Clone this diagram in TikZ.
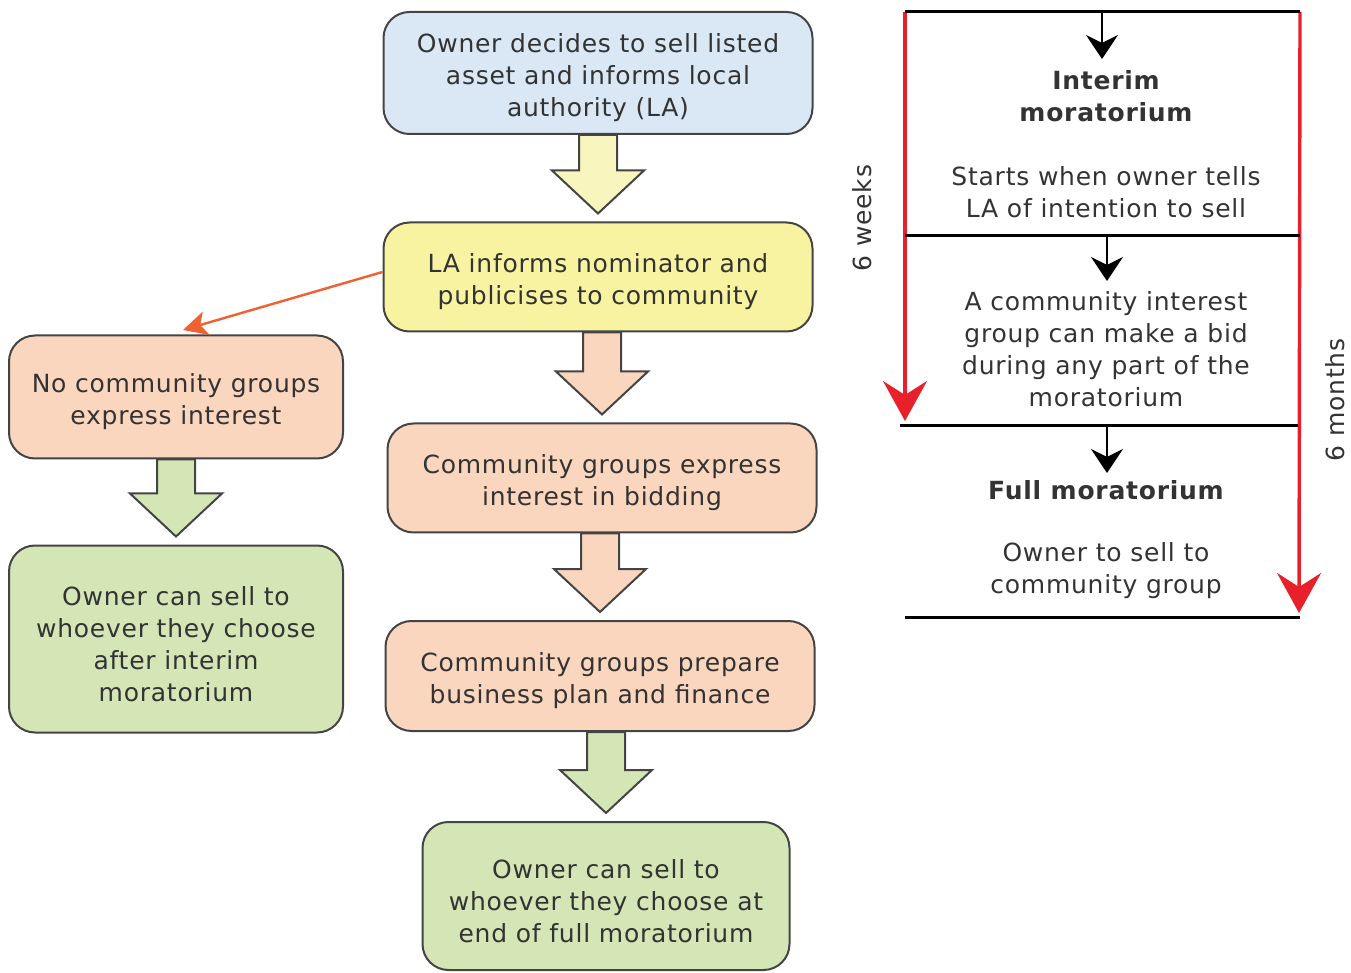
\documentclass[tikz,border=0pt]{standalone}
\usepackage{fontspec}
\setmainfont{DejaVu Sans}[LetterSpace=3]
\usetikzlibrary{arrows.meta,calc}
\definecolor{txt}{HTML}{333333}
\definecolor{edge}{HTML}{444444}
\definecolor{cblue}{HTML}{DAE8F6}
\definecolor{cyellow}{HTML}{F8F3A0}
\definecolor{cpaleyel}{HTML}{F8F5BE}
\definecolor{cpeach}{HTML}{FAD6BE}
\definecolor{cgreen}{HTML}{D4E6B6}
\definecolor{corange}{HTML}{F06030}
\definecolor{cred}{HTML}{E8202A}
\newcommand{\topstrut}{\rule{0pt}{14.5pt}}
\tikzset{
  box/.style={draw=edge, line width=1pt, rounded corners=13pt, align=center,
    text=txt, font=\fontsize{12.5}{16}\selectfont, inner sep=0pt},
  blockarrow/.style={draw=edge, line width=1pt, line join=miter},
  paneltext/.style={align=center, text=txt, font=\fontsize{12.5}{16}\selectfont},
  divider/.style={line width=1.5pt, black},
  blackarr/.style={line width=1.4pt, black, -{Stealth[length=12pt,width=16pt,inset=4pt]}},
  redarr/.style={line width=1.7pt, cred, -{Stealth[length=20pt,width=22pt,inset=7pt]}},
}
\newcommand{\blockarr}[3]{%
  \path let \p1=(#1.south), \p2=(#2.north) in
    [blockarrow, fill=#3] (\x2-9.5pt,\y1) -- (\x2-9.5pt,\y2+25.5pt) -- (\x2-23pt,\y2+25.5pt)
    -- (\x2,\y2+4pt) -- (\x2+23pt,\y2+25.5pt) -- (\x2+9.5pt,\y2+25.5pt) -- (\x2+9.5pt,\y1) -- cycle;}
\begin{document}
\begin{tikzpicture}[x=0.5pt,y=-0.5pt]
\useasboundingbox (0,0) rectangle (1351,973);
% flow boxes
\node[box, fill=cblue, minimum width=214.5pt, minimum height=61pt] (owner) at (598,73)
  {\topstrut Owner decides to sell listed\\asset and informs local\\authority (LA)};
\node[box, fill=cyellow, minimum width=214.5pt, minimum height=54.5pt] (la) at (598,277)
  {\topstrut LA informs nominator and\\publicises to community};
\node[box, fill=cpeach, minimum width=167pt, minimum height=61.5pt] (nocg) at (176,397)
  {\topstrut No community groups\\express interest};
\node[box, fill=cpeach, minimum width=214.5pt, minimum height=54.5pt] (express) at (602,478)
  {\topstrut Community groups express\\interest in bidding};
\node[box, fill=cpeach, minimum width=214.5pt, minimum height=55pt] (prepare) at (600,676)
  {\topstrut Community groups prepare\\business plan and finance};
\node[box, fill=cgreen, minimum width=183.5pt, minimum height=74pt] (endfull) at (606,896)
  {\topstrut Owner can sell to\\whoever they choose at\\end of full moratorium};
\node[box, fill=cgreen, minimum width=167pt, minimum height=93.5pt] (afterint) at (176,639)
  {\topstrut Owner can sell to\\whoever they choose\\after interim\\moratorium};
% block arrows
\blockarr{owner}{la}{cpaleyel}
\blockarr{la}{express}{cpeach}
\blockarr{express}{prepare}{cpeach}
\blockarr{prepare}{endfull}{cgreen}
\blockarr{nocg}{afterint}{cgreen}
% orange connector
\coordinate (nocgtip) at (183,330);
\draw[corange, line width=1.2pt, -{Stealth[length=12pt,width=12pt,inset=3pt]}] (la.west) ++(0,-5) -- (nocgtip);
% right panel
\coordinate (tl) at (905,12);  \coordinate (tr) at (1300,12);
\coordinate (ml) at (905,236); \coordinate (mr) at (1300,236);
\coordinate (ll) at (900,426); \coordinate (lr) at (1298,426);
\coordinate (bl) at (905,617); \coordinate (br) at (1300,617);
\draw[redarr] (tl) -- (905,421);
\draw[redarr] (tr) -- (1299,613);
\draw[divider] (tl) -- (tr);
\draw[divider] (ml) -- (mr);
\draw[divider] (ll) -- (lr);
\draw[divider] (bl) -- (br);
\node[paneltext, font=\fontsize{12.5}{16}\selectfont\bfseries] (interim) at (1106,96) {Interim\\moratorium};
\node[paneltext] (starts) at (1106,192) {Starts when owner tells\\LA of intention to sell};
\node[paneltext] (bid) at (1106,349) {A community interest\\group can make a bid\\during any part of the\\moratorium};
\node[paneltext, font=\fontsize{12.5}{16}\selectfont\bfseries] (full) at (1106,490) {Full moratorium};
\node[paneltext] (tosell) at (1106,571) {Owner to sell to\\community group};
\draw[blackarr] (1102,12) -- (1102,59);
\draw[blackarr] (1107,236) -- (1107,281);
\draw[blackarr] (1107,426) -- (1107,473);
\node[paneltext, rotate=90] (weeks) at (862,218) {6 weeks};
\node[paneltext, rotate=90] (months) at (1335,400) {6 months};
\end{tikzpicture}
\end{document}
